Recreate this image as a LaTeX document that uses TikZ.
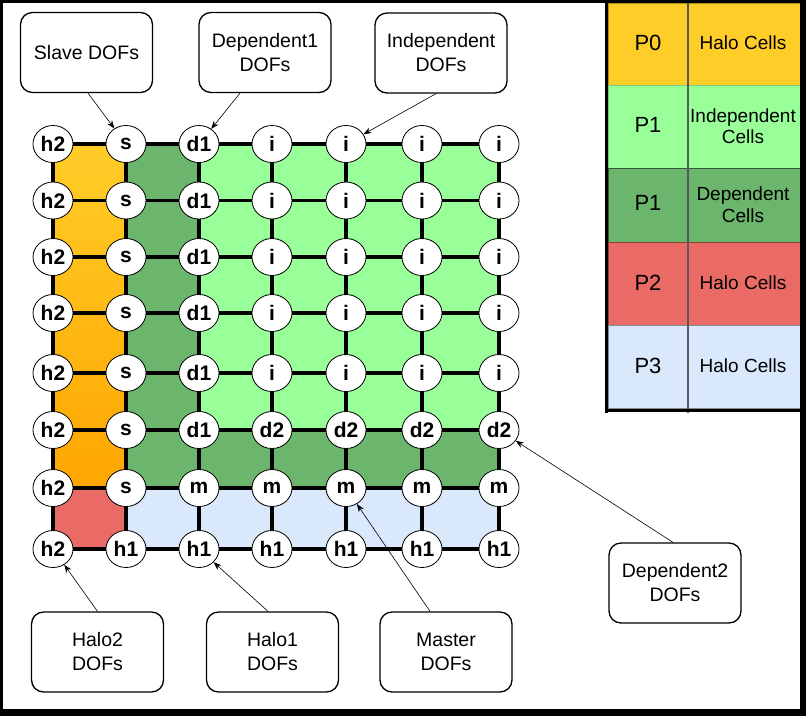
\documentclass[tikz,border=0pt]{standalone}
\usepackage{fontspec}
\setmainfont{Liberation Sans}
\usetikzlibrary{arrows.meta,shapes.geometric}
\definecolor{cyel}{HTML}{FFCD28}
\definecolor{corg}{HTML}{FFA500}
\definecolor{clg}{HTML}{99FF99}
\definecolor{cdg}{HTML}{6CB56C}
\definecolor{cred}{HTML}{EA6B66}
\definecolor{cblu}{HTML}{DAE8FC}
\begin{document}
\begin{tikzpicture}[x=1pt,y=-1pt,
  dof/.style={ellipse,draw,fill=white,line width=0.8pt,minimum width=40pt,minimum height=37pt,inner sep=0pt,font=\fontsize{21}{21}\selectfont\bfseries},
  callout/.style={draw,rounded corners=12pt,line width=1.3pt,fill=white,align=center,font=\fontsize{19.5}{24}\selectfont,minimum width=132pt,minimum height=80pt,inner sep=0pt},
  ptr/.style={-{Stealth[length=8pt,width=6pt]},line width=0.6pt},
  gridline/.style={line width=3.3pt},
  plab/.style={font=\fontsize{22}{22}\selectfont,align=center},
  clab/.style={font=\fontsize{19}{21.5}\selectfont,align=center},
  ]
\useasboundingbox (0,0) rectangle (806,716);
% grid coordinates
\foreach \y [count=\r] in {144,200.5,257,313,373,430,488,549}{
  \foreach \x [count=\c] in {53,126,199,272,346,422,499}{
    \coordinate (p\r-\c) at (\x,\y);
  }
}
% cell fills
\shade[top color=cyel,bottom color=corg] (p1-1) rectangle (p7-2);
\fill[cred] (p7-1) rectangle (p8-2);
\fill[cdg] (p1-2) rectangle (p7-3);
\fill[cblu] (p7-2) rectangle (p8-7);
\fill[clg] (p1-3) rectangle (p6-7);
\fill[cdg] (p6-3) rectangle (p7-7);
% grid lines
\foreach \r in {1,...,8} \draw[gridline] (p\r-1) -- (p\r-7);
\foreach \c in {1,...,7} \draw[gridline] (p1-\c) -- (p8-\c);
% DOF nodes
\foreach \lab [count=\c] in {h2,s,d1,i,i,i,i} \node[dof] (n1-\c) at (p1-\c) {\lab};
\foreach \lab [count=\c] in {h2,s,d1,i,i,i,i} \node[dof] (n2-\c) at (p2-\c) {\lab};
\foreach \lab [count=\c] in {h2,s,d1,i,i,i,i} \node[dof] (n3-\c) at (p3-\c) {\lab};
\foreach \lab [count=\c] in {h2,s,d1,i,i,i,i} \node[dof] (n4-\c) at (p4-\c) {\lab};
\foreach \lab [count=\c] in {h2,s,d1,i,i,i,i} \node[dof] (n5-\c) at (p5-\c) {\lab};
\foreach \lab [count=\c] in {h2,s,d1,d2,d2,d2,d2} \node[dof] (n6-\c) at (p6-\c) {\lab};
\foreach \lab [count=\c] in {h2,s,m,m,m,m,m} \node[dof] (n7-\c) at (p7-\c) {\lab};
\foreach \lab [count=\c] in {h2,h1,h1,h1,h1,h1,h1} \node[dof] (n8-\c) at (p8-\c) {\lab};
% callouts
\node[callout] (slave) at (86.5,52.5) {Slave DOFs};
\node[callout] (dep1) at (265,52.5) {Dependent1\\DOFs};
\node[callout] (indep) at (441,53) {Independent\\DOFs};
\node[callout] (halo2) at (97.5,652) {Halo2\\DOFs};
\node[callout] (halo1) at (272.5,652) {Halo1\\DOFs};
\node[callout] (master) at (446,652) {Master\\DOFs};
\node[callout] (dep2) at (675,583) {Dependent2\\DOFs};
% pointers
\draw[ptr] ([xshift=1.5pt]slave.south) -- (n1-2);
\draw[ptr] ([xshift=-25pt]dep1.south) -- (n1-3);
\draw[ptr] ([xshift=-5pt]indep.south) -- (n1-5);
\draw[ptr] (halo2.north) -- (n8-1);
\draw[ptr] ([xshift=-4.5pt]halo1.north) -- (n8-3);
\draw[ptr] ([xshift=-16pt]master.north) -- (n7-5);
\draw[ptr] ([xshift=-2pt]dep2.north) -- (n6-7);
% legend
\filldraw[fill=cyel,draw=cyel!70!black,line width=0.8pt] (608,3) rectangle (800,85);
\filldraw[fill=clg,draw=clg!80!black,line width=0.8pt] (608,85) rectangle (800,168);
\filldraw[fill=cdg,draw=cdg!50!black,line width=0.8pt] (608,168) rectangle (800,242);
\filldraw[fill=cred,draw=cred!60!black,line width=0.8pt] (608,242) rectangle (800,325);
\filldraw[fill=cblu,draw=cblu!60!black,line width=0.8pt] (608,325) rectangle (800,408);
\draw[line width=1.2pt,black!65] (688,3) -- (688,413);
\draw[line width=3.3pt] (606.5,0) -- (606.5,413);
\draw[line width=3pt] (605,410.5) -- (806,410.5);
\node[plab] (l0p) at (648,43) {P0};
\node[clab] (l0t) at (743,43) {Halo Cells};
\node[plab] (l1p) at (648,125) {P1};
\node[clab] (l1t) at (743,126) {Independent\\Cells};
\node[plab] (l2p) at (648,203) {P1};
\node[clab] (l2t) at (743,204.5) {Dependent\\Cells};
\node[plab] (l3p) at (648,283) {P2};
\node[clab] (l3t) at (743,283) {Halo Cells};
\node[plab] (l4p) at (648,366) {P3};
\node[clab] (l4t) at (743,366) {Halo Cells};
% outer frame
\draw[line width=6.6pt] (0,0) rectangle (803.3,712.7);
\end{tikzpicture}
\end{document}
